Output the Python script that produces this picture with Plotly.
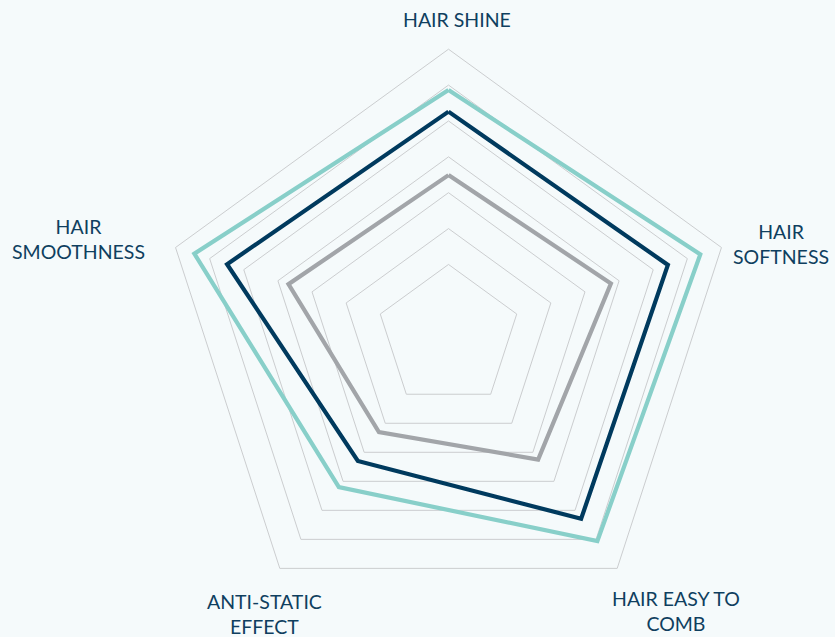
import plotly.graph_objects as go

categories = ["HAIR SHINE", "HAIR SOFTNESS", "HAIR EASY TO COMB", "ANTI-STATIC EFFECT", "HAIR SMOOTHNESS"]
label_lines = ["HAIR SHINE", "HAIR<br>SOFTNESS", "HAIR EASY TO<br>COMB", "ANTI-STATIC<br>EFFECT", "HAIR<br>SMOOTHNESS"]
series_teal = [6.86, 7.38, 7.06, 5.2, 7.45]
series_navy = [6.26, 6.43, 6.29, 4.3, 6.49]
series_gray = [4.49, 4.76, 4.25, 3.3, 4.69]
ring_values = [2, 3, 4, 5, 6, 7, 8]

W, H = 835, 637
cx, cy, R = 448.5, 336.2, 287
BG = "#F5FAFB"
TEXT = "#0F3F5F"

fig = go.Figure()
for vals, color in [(series_gray, "#A2A5A9"), (series_navy, "#003A5E"), (series_teal, "#88CFC9")]:
    fig.add_trace(go.Scatterpolar(
        r=vals + vals[:1],
        theta=categories + categories[:1],
        mode="lines",
        line=dict(color=color, width=4.2),
        showlegend=False,
        hoverinfo="skip",
    ))

# label placement (pixel centres of the label blocks)
label_px = [(457, 20), (781, 244), (676, 611), (264, 614), (78, 239)]
annotations = []
for text, (px, py) in zip(label_lines, label_px):
    annotations.append(dict(
        text=text, x=px / W, y=1 - py / H, xref="paper", yref="paper",
        xanchor="center", yanchor="middle", align="center", showarrow=False,
        font=dict(family="Lato", size=19.5, color=TEXT),
    ))

fig.update_layout(
    width=W, height=H,
    margin=dict(l=0, r=0, t=0, b=0),
    paper_bgcolor=BG,
    plot_bgcolor=BG,
    font=dict(family="Lato", size=19.5, color=TEXT),
    annotations=annotations,
    polar=dict(
        bgcolor=BG,
        gridshape="linear",
        domain=dict(x=[(cx - R) / W, (cx + R) / W], y=[(H - cy - R) / H, (H - cy + R) / H]),
        radialaxis=dict(range=[0, 8], tickvals=ring_values, showticklabels=False,
                        showline=False, ticks="", gridcolor="#CBCDCF", gridwidth=1),
        angularaxis=dict(rotation=90, direction="clockwise", showgrid=False,
                         showline=True, linecolor="#CBCDCF", linewidth=1,
                         ticks="", showticklabels=False),
    ),
)
fig.write_html(
    "out.html",
    config={"displayModeBar": False},
    post_script="document.body.style.margin='0';document.body.style.background='%s';" % BG,
)
